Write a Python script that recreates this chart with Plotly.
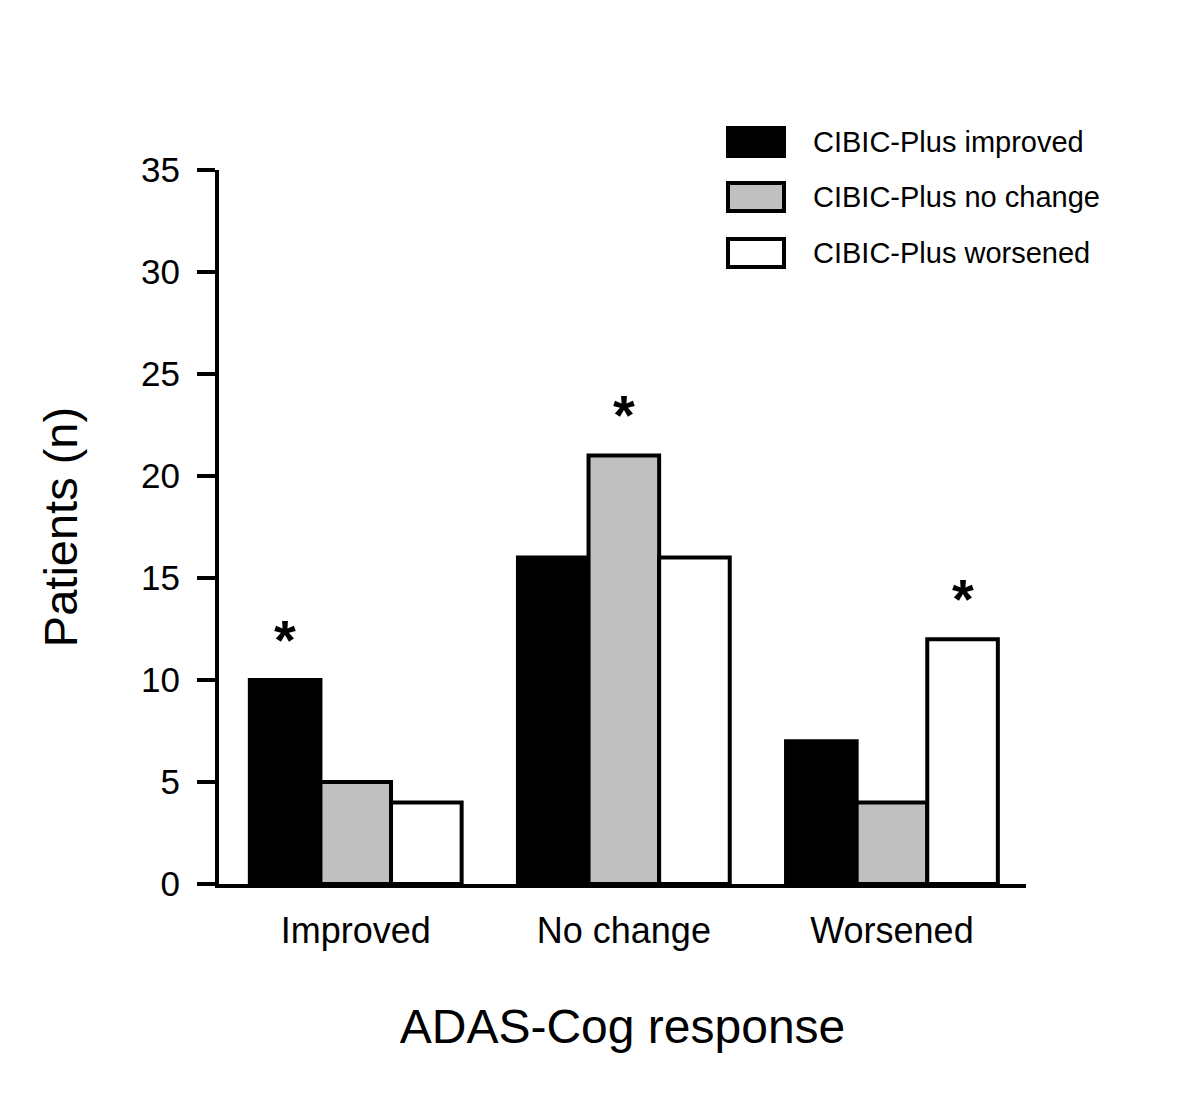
import plotly.graph_objects as go

categories = ["Improved", "No change", "Worsened"]
series_names = ["CIBIC-Plus improved", "CIBIC-Plus no change", "CIBIC-Plus worsened"]
improved = [10, 16, 7]
no_change = [5, 21, 4]
worsened = [4, 16, 12]
colors = ["black", "#c0c0c0", "white"]
y_ticks = [0, 5, 10, 15, 20, 25, 30, 35]

# asterisks: (category, series index, value of the marked bar)
stars = [("Improved", 0, 10), ("No change", 1, 21), ("Worsened", 2, 12)]

font = "Liberation Sans, Arial, sans-serif"

fig = go.Figure()
for name, vals, col in zip(series_names, [improved, no_change, worsened], colors):
    fig.add_trace(go.Bar(
        x=categories, y=vals, name=name,
        marker=dict(color=col, line=dict(color="black", width=4)),
    ))

bar_px = 71
for cat, idx, val in stars:
    fig.add_annotation(
        x=cat, y=val + 2.0, text="<b>*</b>", showarrow=False,
        xshift=(idx - 1) * bar_px,
        font=dict(size=56, color="black", family=font),
    )

# legend drawn by hand to get the large swatches
leg_y = [142, 197, 253]
for name, col, yc in zip(series_names, colors, leg_y):
    fig.add_shape(
        type="rect", xref="paper", yref="paper",
        x0=(727 - 218) / 807, x1=(783 - 218) / 807,
        y0=(884 - yc - 14) / 714, y1=(884 - yc + 14) / 714,
        fillcolor=col, line=dict(color="black", width=4),
    )
    fig.add_annotation(
        xref="paper", yref="paper", x=(810 - 218) / 807, y=(884 - yc) / 714,
        text=name, showarrow=False, xanchor="left", yanchor="middle",
        font=dict(size=29, color="black", family=font),
    )

fig.update_layout(
    width=1200, height=1101,
    margin=dict(l=211, r=182, t=162, b=225),
    plot_bgcolor="white", paper_bgcolor="white",
    barmode="group", bargap=0.21, bargroupgap=0,
    showlegend=False,
    font=dict(family=font, color="black"),
)
fig.update_xaxes(
    range=[-0.51, 2.5], showline=True, linecolor="black", linewidth=4,
    ticks="", showgrid=False, zeroline=False,
    tickfont=dict(size=36), ticklabelstandoff=12,
    title=dict(text="ADAS-Cog response", font=dict(size=48), standoff=60),
)
fig.update_yaxes(
    range=[0, 35], tickvals=y_ticks, showline=True, linecolor="black", linewidth=4,
    ticks="outside", ticklen=18, tickwidth=4, tickcolor="black",
    showgrid=False, zeroline=False,
    tickfont=dict(size=35), ticklabelstandoff=10,
    title=dict(text="Patients (n)", font=dict(size=47), standoff=50),
)

fig.write_html("out.html")
